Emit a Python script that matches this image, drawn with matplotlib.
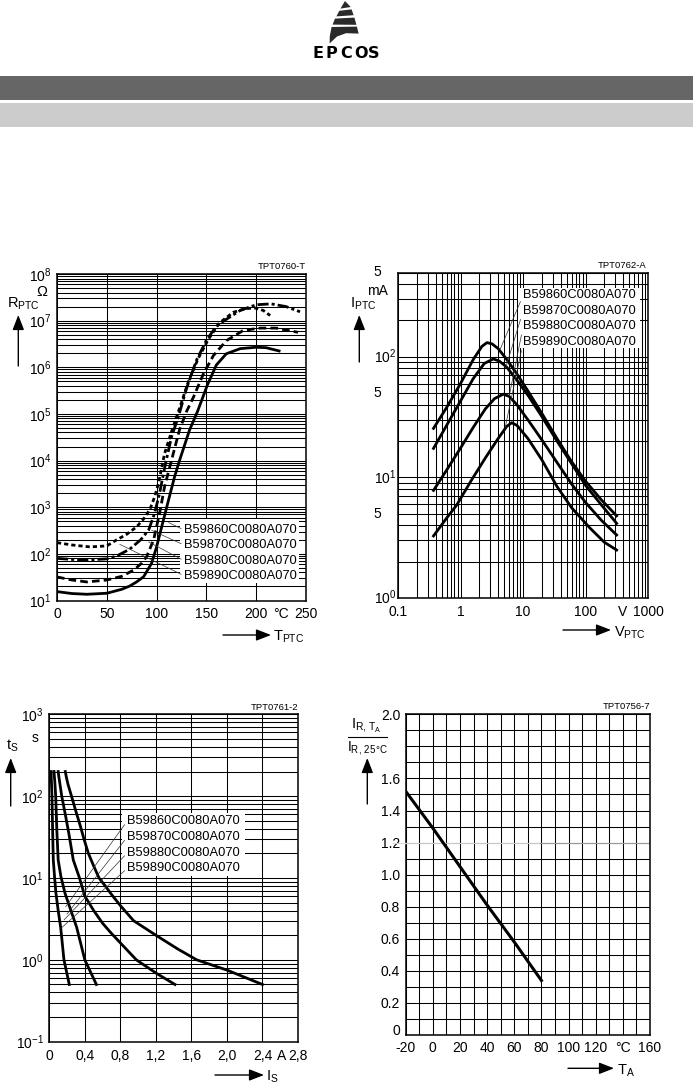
import numpy as np
import matplotlib
matplotlib.use('Agg')
import matplotlib.pyplot as plt
from matplotlib.patches import Rectangle, Polygon, FancyArrowPatch
from matplotlib.lines import Line2D
from matplotlib.ticker import NullLocator

plt.rcParams['font.family'] = ['Liberation Sans', 'DejaVu Sans']
plt.rcParams['mathtext.fontset'] = 'custom'
plt.rcParams['mathtext.rm'] = 'Liberation Sans'
plt.rcParams['mathtext.it'] = 'Liberation Sans:italic'
plt.rcParams['mathtext.bf'] = 'Liberation Sans:bold'
plt.rcParams['lines.scale_dashes'] = False

# ---------------- data ----------------
part_labels = ['B59860C0080A070', 'B59870C0080A070', 'B59880C0080A070', 'B59890C0080A070']

# Chart 1: R_PTC vs T_PTC
t1_dot = [0, 15, 33, 50, 60, 70, 80, 87, 93, 98, 102, 108, 115, 123, 132, 142, 152, 163, 177, 190, 199, 207, 214]
r1_dot = [174, 155, 141, 148, 200, 263, 380, 562, 871, 1660, 3310, 1.41e4, 4.17e4, 1.32e5, 5.0e5, 1.58e6,
          3.98e6, 8.9e6, 1.51e7, 1.82e7, 1.86e7, 1.66e7, 1.29e7]
t1_dd = [0, 15, 30, 50, 60, 73, 84, 92, 98, 103, 109, 115, 122, 130, 140, 150, 160, 170, 184, 200, 215, 230, 244]
r1_dd = [80, 76, 74, 78, 90, 126, 200, 324, 741, 2000, 8710, 3.24e4, 8.9e4, 3.5e5, 1.41e6, 3.8e6, 7.6e6,
         1.07e7, 1.66e7, 2.19e7, 2.29e7, 2.0e7, 1.55e7]
t1_da = [0, 15, 30, 50, 65, 77, 85, 90, 97, 103, 108, 115, 123, 130, 137, 147, 157, 170, 187, 204, 220, 242]
r1_da = [32, 27.5, 25, 27.5, 33, 45, 63, 87, 200, 741, 2750, 1.02e4, 4.57e4, 1.12e5, 2.29e5, 7.24e5,
         1.78e6, 3.72e6, 6.17e6, 6.92e6, 6.92e6, 5.62e6]
t1_so = [0, 15, 30, 50, 65, 73, 80, 87, 95, 100, 106, 112, 118, 123, 133, 141, 151, 160, 170, 184, 200, 210, 223]
r1_so = [15.5, 14.1, 13.6, 14.3, 17.4, 20.4, 25.1, 32.4, 63, 141, 452, 1430, 4470, 1.0e4, 4.47e4, 1.12e5,
         4.17e5, 1.12e6, 1.95e6, 2.51e6, 2.69e6, 2.63e6, 2.24e6]
lead1_t = [112, 95, 92, 63]
lead1_r = [470, 320, 180, 160]

# Chart 2: I_PTC vs V_PTC
v2_a = [0.37, 0.6, 1.0, 1.6, 2.2, 2.65, 3.2, 4.0, 5.5, 8, 12, 20, 35, 60, 100, 180, 315]
i2_a = [25.5, 38, 60, 95, 122, 131, 128, 117, 95, 72, 52, 34, 21, 13.5, 9.3, 6.5, 4.8]
v2_b = [0.37, 0.6, 1.0, 1.6, 2.4, 3.35, 4.2, 5.5, 8, 12, 20, 35, 60, 100, 180, 315]
i2_b = [17.4, 27, 43, 66, 88, 96, 92, 82, 64, 48, 32, 20, 13, 8.6, 5.9, 4.16]
v2_c = [0.37, 0.6, 1.0, 1.6, 2.5, 3.5, 4.84, 6, 8, 12, 20, 35, 60, 100, 180, 315]
i2_c = [7.8, 11.5, 17.5, 26, 37, 45, 49, 47, 40, 30, 20.5, 13.3, 8.8, 6.2, 4.4, 3.33]
v2_d = [0.37, 0.6, 0.87, 1.5, 2.5, 4, 5.5, 6.6, 8, 12, 20, 35, 60, 118, 200, 315]
i2_d = [3.27, 4.6, 5.9, 9.5, 14.5, 21, 26.5, 28.4, 27, 21, 14, 8.4, 5.6, 3.8, 2.9, 2.5]
lead2_v = [4.3, 5.35, 6.0, 5.15]
lead2_i = [115, 83, 47, 25.5]

# Chart 3: t_S vs I_S
i3_1 = [0.02, 0.022, 0.025, 0.03, 0.037, 0.045, 0.06, 0.075, 0.10, 0.128, 0.165, 0.225]
t3_1 = [200, 170, 140, 100, 40, 16.6, 10, 6.5, 4, 2.5, 1.0, 0.5]
i3_2 = [0.053, 0.056, 0.062, 0.072, 0.085, 0.10, 0.13, 0.177, 0.24, 0.308, 0.40, 0.53]
t3_2 = [200, 180, 150, 100, 38, 16.6, 10.5, 6.5, 4.1, 2.5, 1.0, 0.5]
i3_3 = [0.10, 0.105, 0.12, 0.14, 0.18, 0.22, 0.27, 0.34, 0.40, 0.50, 0.60, 0.70, 0.84, 0.98, 1.21, 1.415]
t3_3 = [200, 180, 140, 100, 60, 35, 16.6, 10, 6.0, 4.0, 2.8, 2.1, 1.45, 1.0, 0.68, 0.5]
i3_4 = [0.18, 0.19, 0.21, 0.25, 0.30, 0.35, 0.39, 0.44, 0.50, 0.56, 0.63, 0.70, 0.80, 0.95, 1.2, 1.45, 1.66,
        2.0, 2.4]
t3_4 = [200, 175, 140, 100, 65, 43, 30, 20, 14, 10, 8.0, 6.3, 4.6, 3.0, 2.0, 1.35, 1.0, 0.75, 0.5]
lead3_i = [0.185, 0.199, 0.166, 0.132]
lead3_t = [4.46, 3.63, 3.07, 2.43]

# Chart 4: I_R,TA / I_R,25C vs T_A
t4 = [-20, 0, 20, 40, 60, 80]
r4 = [1.52, 1.29, 1.05, 0.81, 0.58, 0.34]

# ---------------- figure ----------------
W, H = 693, 1084
fig = plt.figure(figsize=(W / 100, H / 100), dpi=100)
fig.patch.set_facecolor('white')


def fx(x):
    return x / W


def fy(y):
    return 1 - y / H


def add_ax(l, t, r, b):
    ax = fig.add_axes([l / W, 1 - b / H, (r - l) / W, (b - t) / H])
    ax.tick_params(length=0, labelsize=10, colors='black')
    for s in ax.spines.values():
        s.set_linewidth(1.1)
        s.set_color('black')
        s.set_zorder(6)
    return ax


def ftext(x, y, s, **kw):
    kw.setdefault('fontsize', 10)
    kw.setdefault('va', 'center')
    fig.text(fx(x), fy(y), s, **kw)


def farrow(x0, y0, x1, y1):
    fig.add_artist(FancyArrowPatch((fx(x0), fy(y0)), (fx(x1), fy(y1)), transform=fig.transFigure,
                                   arrowstyle='-|>,head_length=0.9,head_width=0.35', mutation_scale=10,
                                   lw=1.0, color='black', shrinkA=0, shrinkB=0))


# header bands
fig.add_artist(Rectangle((0, fy(100)), 1, 24 / H, transform=fig.transFigure, color='#666666', lw=0))
fig.add_artist(Rectangle((0, fy(127)), 1, 24 / H, transform=fig.transFigure, color='#cccccc', lw=0))

# logo
stripes = [
    [(345, 1), (350.7, 7.0), (340.5, 8.6)],
    [(339.3, 10.8), (351.6, 9.4), (353.6, 15.2), (336.4, 16.4)],
    [(335.0, 18.6), (354.4, 17.6), (356.4, 24.8), (332.6, 24.6)],
    [(331.6, 27.0), (356.9, 26.6), (358.6, 33.6), (346, 33.2), (337, 36.5), (329.6, 43.5), (329.8, 36)],
]
for st in stripes:
    fig.add_artist(Polygon([(fx(a), fy(b)) for a, b in st], closed=True, transform=fig.transFigure,
                           fc='#2a2a2a', ec='none'))
for ch, xc in zip('EPCOS', [318.3, 331.7, 346.0, 360.7, 373.3]):
    ftext(xc, 58.5, ch, ha='center', va='baseline', fontsize=11.5, fontweight='bold', family='DejaVu Sans')

GRID = dict(color='black', lw=0.75, zorder=1)
LW = 2.0


def log_grid_vals(d0, d1, top=None):
    vals = []
    for d in range(d0, d1):
        for k in range(1, 10):
            v = k * 10.0 ** d
            if top is None or v <= top * 1.0001:
                vals.append(v)
    if top is not None:
        vals.append(top)
    return vals


# ============ Chart 1 ============
ax1 = add_ax(57, 274, 306, 600.5)
ax1.set_yscale('log')
ax1.set_xlim(0, 250)
ax1.set_ylim(10, 1e8)
for v in log_grid_vals(1, 8, 1e8):
    ax1.axhline(v, **GRID)
for v in [0, 50, 100, 150, 200, 250]:
    ax1.axvline(v, **GRID)
ax1.yaxis.set_minor_locator(NullLocator())
ax1.set_yticks([10.0 ** d for d in range(1, 9)])
ax1.set_yticklabels([r'$\mathregular{10^{%d}}$' % d for d in range(1, 9)])
ax1.set_xticks([0, 50, 100, 150, 200, 225, 250])
ax1.set_xticklabels(['0', '50', '100', '150', '200', '°C', '250'])
ax1.tick_params(axis='x', pad=5)
ax1.tick_params(axis='y', pad=4)
ax1.add_patch(Rectangle((0.494, 0.053), 0.478, 0.196, transform=ax1.transAxes, fc='white', ec='none', zorder=3))
ax1.plot(t1_dot, r1_dot, color='black', lw=LW, dashes=(3.0, 2.2), zorder=4, solid_capstyle='butt')
ax1.plot(t1_dd, r1_dd, color='black', lw=LW, dashes=(8, 2.2, 2.2, 2.2), zorder=4)
ax1.plot(t1_da, r1_da, color='black', lw=LW, dashes=(5.5, 3), zorder=4)
ax1.plot(t1_so, r1_so, color='black', lw=LW, zorder=4)
for lab, fyv, lt, lr in zip(part_labels, [0.216, 0.170, 0.122, 0.076], lead1_t, lead1_r):
    ax1.annotate(lab, xy=(lt, lr), xycoords='data', xytext=(0.510, fyv), textcoords='axes fraction',
                 fontsize=9.3, va='center', ha='left', zorder=5,
                 arrowprops=dict(arrowstyle='-', lw=0.5, color='#333333', shrinkA=0, shrinkB=0,
                                 relpos=(0, 0.5)))
ftext(306, 266.5, 'TPT0760-T', ha='right', fontsize=6.8)
ftext(41.5, 295.5, 'Ω', ha='center', va='baseline', fontsize=10.5)
ftext(7, 307.5, r'$\mathregular{R_{PTC}}$', ha='left', va='baseline', fontsize=10.5)
farrow(18.3, 366, 18.3, 315)
farrow(223, 635, 271, 635)
ftext(273, 641, r'$\mathregular{T_{PTC}}$', ha='left', va='baseline', fontsize=10.5)

# ============ Chart 2 ============
ax2 = add_ax(398, 272.5, 648, 598)
ax2.set_xscale('log')
ax2.set_yscale('log')
ax2.set_xlim(0.1, 1000)
ax2.set_ylim(1, 500)
for v in log_grid_vals(0, 3, 500):
    ax2.axhline(v, **GRID)
for v in log_grid_vals(-1, 3, 1000):
    ax2.axvline(v, **GRID)
ax2.xaxis.set_minor_locator(NullLocator())
ax2.yaxis.set_minor_locator(NullLocator())
ax2.set_xticks([0.1, 1, 10, 100, 385, 1000])
ax2.set_xticklabels(['0.1', '1', '10', '100', 'V', '1000'])
ax2.tick_params(axis='x', pad=5)
ax2.set_yticks([])
for val, lab in zip([1, 5, 10, 50, 100, 500],
                    [r'$\mathregular{10^{0}}$', '5', r'$\mathregular{10^{1}}$', '5', r'$\mathregular{10^{2}}$', '5']):
    ax2.text(-0.097, val, lab, transform=ax2.get_yaxis_transform(), ha='left', va='center', fontsize=10)
ax2.add_patch(Rectangle((0.481, 0.767), 0.487, 0.186, transform=ax2.transAxes, fc='white', ec='none', zorder=3))
for vv, ii in [(v2_a, i2_a), (v2_b, i2_b), (v2_c, i2_c), (v2_d, i2_d)]:
    ax2.plot(vv, ii, color='black', lw=LW, zorder=4)
for lab, fyv, lv, li in zip(part_labels, [0.931, 0.883, 0.836, 0.787], lead2_v, lead2_i):
    ax2.annotate(lab, xy=(lv, li), xycoords='data', xytext=(0.501, fyv), textcoords='axes fraction',
                 fontsize=9.3, va='center', ha='left', zorder=5,
                 arrowprops=dict(arrowstyle='-', lw=0.5, color='#333333', shrinkA=0, shrinkB=0,
                                 relpos=(0, 0.5)))
ftext(647, 265, 'TPT0762-A', ha='right', fontsize=6.8)
ftext(377.5, 294.5, 'mA', ha='center', va='baseline', fontsize=10)
ftext(349.5, 307.5, r'$\mathregular{I_{PTC}}$', ha='left', va='baseline', fontsize=10.5)
farrow(359.3, 362, 359.3, 315)
farrow(563, 630, 611, 630)
ftext(614, 636.5, r'$\mathregular{V_{PTC}}$', ha='left', va='baseline', fontsize=10.5)

# ============ Chart 3 ============
ax3 = add_ax(49.3, 714.3, 298, 1041.7)
ax3.set_yscale('log')
ax3.set_xlim(0, 2.8)
ax3.set_ylim(0.1, 1000)
for v in log_grid_vals(-1, 3, 1000):
    ax3.axhline(v, **GRID)
for v in [0, 0.4, 0.8, 1.2, 1.6, 2.0, 2.4, 2.8]:
    ax3.axvline(v, **GRID)
ax3.yaxis.set_minor_locator(NullLocator())
ax3.set_yticks([0.1, 1, 10, 100, 1000])
ax3.set_yticklabels([r'$\mathregular{10^{%d}}$' % d for d in range(-1, 4)])
ax3.set_xticks([0, 0.4, 0.8, 1.2, 1.6, 2.0, 2.4, 2.62, 2.8])
ax3.set_xticklabels(['0', '0,4', '0,8', '1,2', '1,6', '2,0', '2,4', 'A', '2,8'])
ax3.tick_params(axis='x', pad=5)
ax3.tick_params(axis='y', pad=4)
ax3.add_patch(Rectangle((0.291, 0.506), 0.496, 0.193, transform=ax3.transAxes, fc='white', ec='none', zorder=3))
for ii, tt in [(i3_1, t3_1), (i3_2, t3_2), (i3_3, t3_3), (i3_4, t3_4)]:
    ax3.plot(ii, tt, color='black', lw=LW, zorder=4)
for lab, fyv, li, lt in zip(part_labels, [0.675, 0.626, 0.577, 0.530], lead3_i, lead3_t):
    ax3.annotate(lab, xy=(li, lt), xycoords='data', xytext=(0.314, fyv), textcoords='axes fraction',
                 fontsize=9.3, va='center', ha='left', zorder=5,
                 arrowprops=dict(arrowstyle='-', lw=0.5, color='#333333', shrinkA=0, shrinkB=0,
                                 relpos=(0, 0.5)))
ftext(298, 708, 'TPT0761-2', ha='right', fontsize=6.8)
ftext(35, 741.7, 's', ha='center', va='baseline', fontsize=10)
ftext(6.5, 749.3, r'$\mathregular{t_{S}}$', ha='left', va='baseline', fontsize=10.5)
farrow(10.7, 806, 10.7, 758)
farrow(215, 1075, 264, 1075)
ftext(266.5, 1080.5, r'$\mathregular{I_{S}}$', ha='left', va='baseline', fontsize=10.5)

# ============ Chart 4 ============
ax4 = add_ax(405.7, 714.3, 650, 1035)
ax4.set_xlim(-20, 160)
ax4.set_ylim(0, 2.0)
for v in np.arange(0, 2.01, 0.1):
    if abs(v - 1.2) > 1e-6:
        ax4.axhline(v, **GRID)
for v in np.arange(-20, 161, 10):
    ax4.axvline(v, **GRID)
ax4.axhline(1.2, xmin=0, xmax=0.55, color='#c8c8c8', lw=0.9, zorder=1)
ax4.axhline(1.2, xmin=0.55, xmax=1, color='#9a9a9a', lw=0.9, zorder=1)
fig.add_artist(Line2D([fx(393), fx(405.7)], [fy(842.6)] * 2, transform=fig.transFigure, color='#d8d8d8', lw=0.9))
ax4.set_yticks([0, 0.2, 0.4, 0.6, 0.8, 1.0, 1.2, 1.4, 1.6, 2.0])
ax4.set_yticklabels(['0', '0.2', '0.4', '0.6', '0.8', '1.0', '1.2', '1.4', '1.6', '2.0'])
ax4.get_yticklabels()[0].set_va('baseline')
ax4.set_xticks([-20, 0, 20, 40, 60, 80, 100, 120, 140, 160])
ax4.set_xticklabels(['-20', '0', '20', '40', '60', '80', '100', '120', '°C', '160'])
ax4.tick_params(axis='x', pad=4.5)
ax4.tick_params(axis='y', pad=4)
ax4.plot(t4, r4, color='black', lw=LW + 0.2, zorder=4)
ftext(650, 706.7, 'TPT0756-7', ha='right', fontsize=6.8)
ftext(366, 728.5, r'$\mathregular{I_{R,\,T_{A}}}$', ha='center', va='baseline', fontsize=10.5)
fig.add_artist(Line2D([fx(348), fx(387)], [fy(736.7)] * 2, transform=fig.transFigure, color='black', lw=0.8))
ftext(367.5, 751.5, r'$\mathregular{I_{R,\,25\,°C}}$', ha='center', va='baseline', fontsize=10)
farrow(367.3, 804, 367.3, 758)
farrow(568, 1068.3, 614, 1068.3)
ftext(617, 1074.5, r'$\mathregular{T_{A}}$', ha='left', va='baseline', fontsize=10.5)

fig.savefig('out.png', dpi=100, facecolor='white')
